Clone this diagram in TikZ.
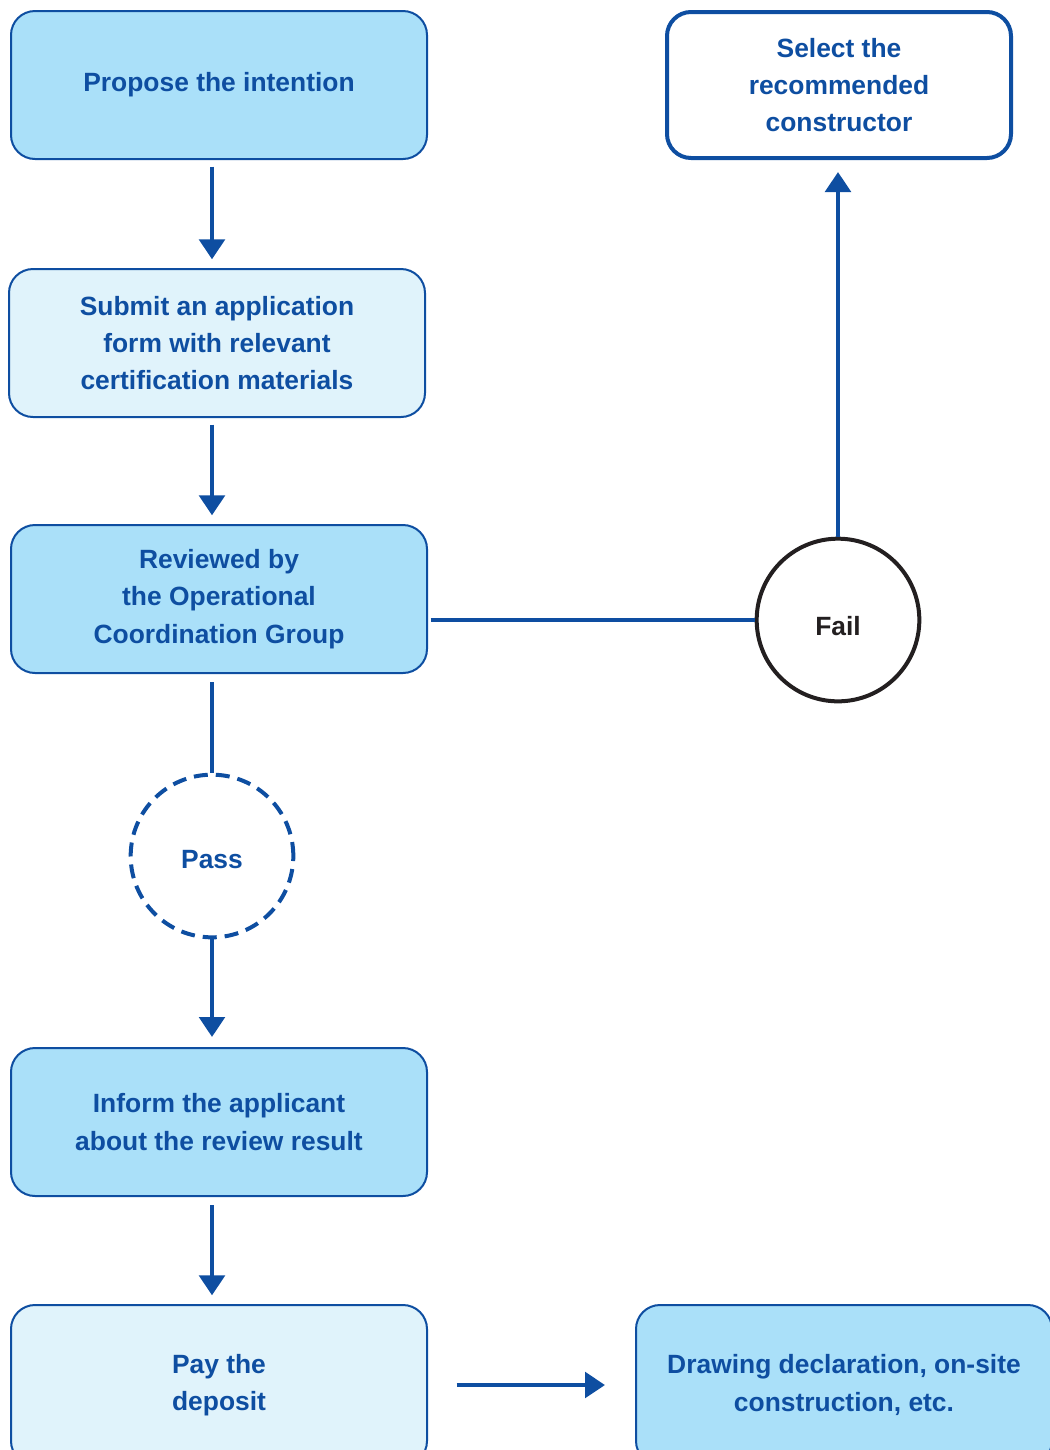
\documentclass[tikz,border=0pt]{standalone}
\usepackage{fontspec}
\setmainfont{Liberation Sans}
\usetikzlibrary{arrows.meta}

\definecolor{boxblue}{RGB}{170,224,249}
\definecolor{paleblue}{RGB}{224,243,251}
\definecolor{lineblue}{RGB}{14,78,161}
\definecolor{darkline}{RGB}{35,31,32}

\tikzset{
  box/.style={draw=lineblue, line width=1.5pt, rounded corners=18pt, minimum width=312pt, minimum height=111pt, inner sep=0pt, align=center, text=lineblue, font=\fontsize{19.8}{28}\selectfont\bfseries},
  pass/.style={circle, draw=lineblue, line width=3pt, dash pattern=on 10.5pt off 6pt, minimum size=122pt, inner sep=0pt, text=lineblue, font=\fontsize{19.8}{28}\selectfont\bfseries},
  fail/.style={circle, draw=darkline, line width=3pt, minimum size=122pt, inner sep=0pt, text=darkline, font=\fontsize{19.8}{28}\selectfont\bfseries},
  flow/.style={draw=lineblue, line width=3.4pt, -{Triangle[width=19pt,length=15pt]}},
  link/.style={draw=lineblue, line width=3.4pt}
}

\begin{document}
\begin{tikzpicture}[x=0.75pt,y=0.75pt,yscale=-1,xscale=1]
\useasboundingbox (0,0) rectangle (1050,1450);
\clip (0,0) rectangle (1050,1450);

% Boxes
\node [box, fill=boxblue] (propose) at (219,85) {Propose the intention};
\node [box, fill=paleblue] (submit) at (217,343) {Submit an application\\form with relevant\\certification materials};
\node [box, fill=boxblue] (review) at (219,599) {Reviewed by\\the Operational\\Coordination Group};
\node [box, fill=boxblue] (inform) at (219,1122) {Inform the applicant\\about the review result};
\node [box, fill=paleblue, minimum height=120pt] (pay) at (219,1385) {Pay the\\deposit};
\node [box, fill=boxblue, minimum height=120pt] (drawing) at (844,1385) {Drawing declaration, on-site\\construction, etc.};
\node [box, fill=white, line width=3pt, minimum width=258pt, minimum height=109.5pt] (select) at (839,85) {Select the\\recommended\\constructor};

% Circles
\node [pass] (pass) at (212,856) {\raisebox{-2.5pt}[\height][\depth]{Pass}};
\node [fail] (fail) at (838,620) {\raisebox{-4.5pt}[\height][\depth]{Fail}};

% Connectors
\draw [flow, shorten <=5pt, shorten >=6.5pt] (propose.south -| pass) -- (submit.north -| pass);
\draw [flow, shorten <=5pt, shorten >=6.5pt] (submit.south -| pass) -- (review.north -| pass);
\draw [link, shorten <=6pt] (review.south -| pass) -- (pass);
\draw [flow, shorten >=7.5pt] (pass) -- (inform.north -| pass);
\draw [flow, shorten <=6pt, shorten >=6.5pt] (inform.south -| pass) -- (pay.north -| pass);
\draw [flow, shorten <=21.5pt, shorten >=22.5pt] (pay.east) -- (drawing.west);
\draw [link, shorten <=2pt] (review.east |- fail) -- (fail);
\draw [flow, shorten >=9pt] (fail) -- (fail |- select.south);

\end{tikzpicture}
\end{document}
